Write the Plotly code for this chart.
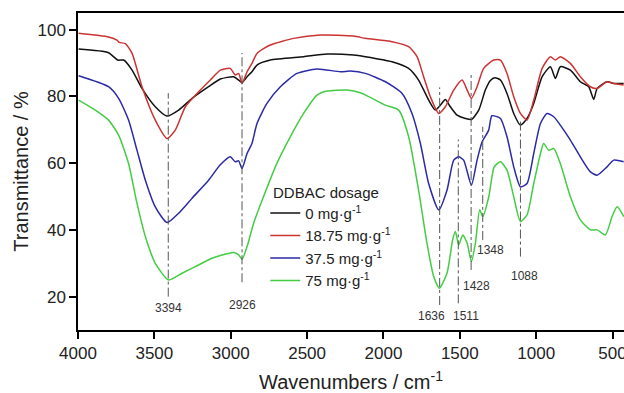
import plotly.graph_objects as go

# ---------------- data ----------------
wn_0 = [3996, 3800, 3740, 3701, 3646, 3581, 3494, 3417, 3341, 3253, 3145, 3068, 2981, 2948, 2926,
        2893, 2861, 2828, 2741, 2523, 2369, 2195, 2119, 1944, 1835, 1770, 1704, 1660, 1627, 1595,
        1562, 1518, 1464, 1424, 1376, 1333, 1300, 1270, 1234, 1191, 1147, 1103, 1060, 1016, 961,
        907, 874, 842, 776, 711, 656, 623, 601, 536, 492, 427]
tr_0 = [94.2, 93.1, 90.9, 90.9, 87.9, 82.4, 76.9, 74.1, 75.9, 79.4, 82.9, 85.2, 85.9, 84.9, 84.2,
        85.9, 87.4, 89.4, 90.9, 91.9, 92.7, 92.4, 91.9, 90.4, 88.4, 84.9, 78.9, 75.9, 77.4, 79.1,
        76.9, 74.4, 73.4, 73.1, 75.9, 81.9, 84.8, 85.6, 84.9, 80.9, 74.9, 71.4, 73.4, 77.9, 85.9,
        88.9, 85.4, 88.9, 87.9, 84.4, 82.9, 79.1, 82.4, 84.4, 83.9, 83.9]

wn_1875 = [3996, 3800, 3745, 3730, 3690, 3646, 3581, 3494, 3417, 3363, 3297, 3210, 3123, 3068, 3003,
           2970, 2948, 2926, 2893, 2861, 2828, 2741, 2588, 2413, 2195, 2119, 1944, 1835, 1780, 1737,
           1693, 1638, 1595, 1540, 1485, 1452, 1424, 1387, 1344, 1278, 1234, 1191, 1147, 1103, 1060,
           1016, 961, 907, 874, 842, 776, 711, 645, 601, 536, 492, 427]
tr_1875 = [98.9, 97.8, 96.9, 96.2, 95.8, 92.9, 82.9, 72.9, 67.4, 69.9, 76.9, 81.4, 85.4, 87.9, 88.4,
           86.4, 86.9, 83.9, 87.4, 89.9, 92.9, 95.4, 97.4, 98.4, 98.1, 97.4, 96.4, 94.9, 91.9, 85.9,
           79.9, 74.9, 76.9, 81.9, 84.9, 81.9, 79.4, 82.9, 88.4, 90.9, 90.9, 86.9, 79.9, 74.9, 72.9,
           78.9, 88.4, 91.9, 90.9, 91.9, 89.9, 85.9, 82.9, 82.4, 84.4, 83.9, 83.4]

wn_375 = [3996, 3800, 3734, 3669, 3614, 3559, 3494, 3417, 3341, 3253, 3145, 3068, 3003, 2970, 2948,
          2926, 2893, 2861, 2828, 2763, 2675, 2566, 2435, 2282, 2217, 2119, 1987, 1878, 1813, 1758,
          1704, 1638, 1584, 1540, 1507, 1475, 1424, 1387, 1354, 1311, 1290, 1234, 1191, 1147, 1103,
          1060, 1016, 972, 929, 885, 842, 776, 711, 645, 601, 536, 492, 427]
tr_375 = [86.2, 82.9, 79.4, 72.9, 63.9, 54.9, 46.9, 42.2, 45.0, 49.5, 54.9, 59.5, 61.9, 60.4, 60.7,
          58.4, 62.9, 65.9, 71.9, 77.9, 82.9, 86.9, 88.2, 87.4, 87.6, 86.9, 84.4, 80.9, 74.9, 65.9,
          53.9, 46.0, 51.9, 60.9, 61.9, 60.9, 53.4, 60.9, 66.4, 69.9, 74.2, 73.4, 67.9, 58.9, 52.9,
          53.9, 62.9, 71.9, 74.9, 73.9, 71.4, 66.9, 61.9, 57.4, 56.4, 58.9, 60.9, 60.4]

wn_75 = [3996, 3887, 3800, 3734, 3669, 3614, 3559, 3494, 3407, 3319, 3232, 3123, 3068, 2981, 2948,
         2926, 2893, 2850, 2785, 2697, 2610, 2523, 2435, 2369, 2238, 2151, 2086, 1987, 1900, 1835,
         1770, 1715, 1671, 1634, 1584, 1547, 1529, 1507, 1481, 1452, 1424, 1398, 1370, 1350, 1310,
         1275, 1234, 1191, 1147, 1103, 1060, 1016, 972, 951, 918, 885, 842, 776, 711, 645, 601,
         547, 503, 470, 427]
tr_75 = [78.9, 75.9, 72.9, 68.4, 59.9, 48.0, 38.0, 30.0, 25.0, 27.0, 29.0, 31.5, 32.3, 33.2, 32.5,
         31.2, 35.0, 42.0, 50.0, 60.0, 67.9, 74.9, 80.4, 81.6, 81.9, 81.1, 79.7, 77.4, 75.9, 67.9,
         51.9, 36.0, 26.0, 22.5, 27.0, 37.0, 39.5, 35.5, 38.5, 36.0, 30.5, 36.0, 46.0, 44.0, 50.0,
         58.9, 60.4, 57.9, 49.9, 42.5, 44.5, 53.9, 62.9, 65.9, 63.9, 64.4, 59.9, 49.9, 43.0, 40.0, 40.0,
         38.5, 44.0, 46.9, 44.0]

series_names = ["0 mg·g<sup>-1</sup>", "18.75 mg·g<sup>-1</sup>",
                "37.5 mg·g<sup>-1</sup>", "75 mg·g<sup>-1</sup>"]
series_x = [wn_0, wn_1875, wn_375, wn_75]
series_y = [tr_0, tr_1875, tr_375, tr_75]
legend_title = "DDBAC dosage"

# marked peaks: label text, line position, line bottom/top, label position
peak_labels = ["3394", "2926", "1636", "1511", "1428", "1348", "1088"]
peak_line_x = [3409, 2926, 1632, 1510, 1426, 1350, 1103]
peak_line_lo = [20.0, 24.3, 17.5, 18.0, 28.0, 37.0, 32.0]
peak_line_hi = [81.0, 93.0, 82.7, 67.1, 86.7, 70.9, 72.9]
peak_label_x = [3409, 2922, 1686, 1457, 1392, 1300, 1079]
peak_label_y = [16.7, 17.4, 14.3, 14.3, 23.2, 34.0, 26.3]

x_ticks = [4000, 3500, 3000, 2500, 2000, 1500, 1000, 500]
y_ticks = [20, 40, 60, 80, 100]

# ---------------- styling ----------------
colors = ["#111111", "#cc3333", "#2b2ba6", "#44cc44"]
FONT = "Liberation Sans, Arial, sans-serif"

fig = go.Figure()
for name, xs, ys, c in zip(series_names, series_x, series_y, colors):
    fig.add_trace(go.Scatter(x=xs, y=ys, mode="lines", name=name,
                             line=dict(color=c, width=1.5, shape="spline", smoothing=0.6)))

for lx, lo, hi in zip(peak_line_x, peak_line_lo, peak_line_hi):
    fig.add_shape(type="line", xref="x", yref="y", x0=lx, x1=lx, y0=lo, y1=hi,
                  line=dict(color="#555555", width=1, dash="dashdot"))

for txt, ax_, ay_ in zip(peak_labels, peak_label_x, peak_label_y):
    fig.add_annotation(x=ax_, y=ay_, xref="x", yref="y", text=txt, showarrow=False,
                       font=dict(family=FONT, size=12, color="#333333"))

# legend heading drawn as text above the legend entries
fig.add_annotation(x=0.3533, y=0.434, xref="paper", yref="paper", xanchor="left", yanchor="middle",
                   text=legend_title, showarrow=False,
                   font=dict(family=FONT, size=15, color="#222222"))

fig.update_layout(
    width=624, height=393,
    margin=dict(l=78, r=0, t=13, b=63),
    paper_bgcolor="white", plot_bgcolor="white",
    font=dict(family=FONT, color="#222222"),
    showlegend=True,
    legend=dict(x=0.343, y=0.4205, xanchor="left", yanchor="top",
                bgcolor="rgba(0,0,0,0)", borderwidth=0,
                font=dict(family=FONT, size=15, color="#222222"),
                tracegroupgap=0, itemwidth=30),
)
fig.update_xaxes(range=[4000, 425], tickvals=x_ticks, showgrid=False, zeroline=False,
                 automargin=False, ticklabeloverflow="allow",
                 showline=True, linecolor="black", linewidth=1.5, mirror=True,
                 ticks="outside", ticklen=7, tickwidth=1.5, tickcolor="black",
                 tickfont=dict(family=FONT, size=17, color="#222222"),
                 title=dict(text="Wavenumbers / cm<sup>-1</sup>",
                            font=dict(family=FONT, size=20, color="#222222"), standoff=20))
fig.update_yaxes(range=[10, 105], tickvals=y_ticks, showgrid=False, zeroline=False,
                 automargin=False,
                 showline=True, linecolor="black", linewidth=1.5,
                 ticks="outside", ticklen=7, tickwidth=1.5, tickcolor="black",
                 tickfont=dict(family=FONT, size=17, color="#222222"),
                 title=dict(text="Transmittance / %",
                            font=dict(family=FONT, size=20, color="#222222"), standoff=3))

fig.write_html("out.html", config={"displayModeBar": False},
               post_script="document.body.style.margin='0';document.body.style.overflow='hidden';")
